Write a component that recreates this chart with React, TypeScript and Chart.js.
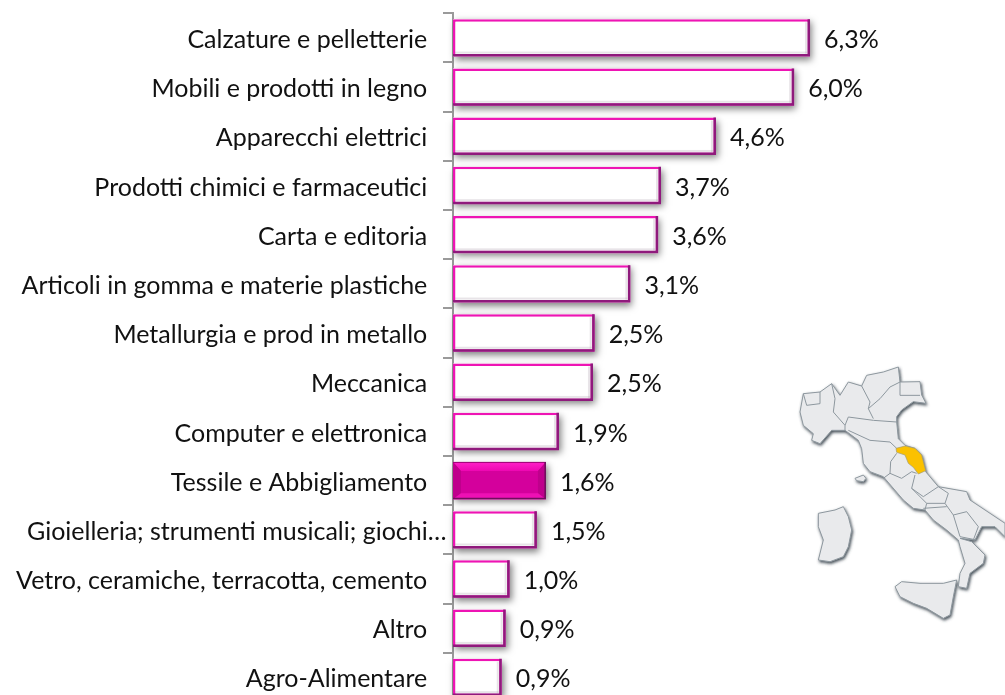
import React, { useEffect, useRef } from "react";
import { Chart, registerables } from "chart.js";

Chart.register(...registerables);

const categories = [
  "Calzature e pelletterie",
  "Mobili e prodotti in legno",
  "Apparecchi elettrici",
  "Prodotti chimici e farmaceutici",
  "Carta e editoria",
  "Articoli in gomma e materie plastiche",
  "Metallurgia e prod in metallo",
  "Meccanica",
  "Computer e elettronica",
  "Tessile e Abbigliamento",
  "Gioielleria; strumenti musicali; giochi…",
  "Vetro, ceramiche, terracotta, cemento",
  "Altro",
  "Agro-Alimentare",
];
const values = [6.3, 6.02, 4.64, 3.67, 3.62, 3.13, 2.5, 2.47, 1.87, 1.64, 1.48, 1.0, 0.93, 0.86];
const valueLabels = ["6,3%", "6,0%", "4,6%", "3,7%", "3,6%", "3,1%", "2,5%", "2,5%", "1,9%", "1,6%", "1,5%", "1,0%", "0,9%", "0,9%"];
const highlighted = "Tessile e Abbigliamento";
const overflowing = "Gioielleria; strumenti musicali; giochi…";

const FONT = "Lato, sans-serif";
const PINK = "#ee14b4";
const PURPLE = "#8f1a7c";

const barDecor = {
  id: "barDecor",
  beforeDatasetsDraw(chart: any) {
    const { ctx } = chart;
    chart.getDatasetMeta(0).data.forEach((b: any) => {
      const top = b.y - b.height / 2;
      ctx.save();
      ctx.shadowColor = "rgba(0,0,0,0.5)";
      ctx.shadowBlur = 7;
      ctx.shadowOffsetX = 2;
      ctx.shadowOffsetY = 3;
      ctx.fillStyle = "#fff";
      ctx.fillRect(b.base, top, b.x - b.base, b.height);
      ctx.restore();
    });
  },
  afterDatasetsDraw(chart: any) {
    const { ctx } = chart;
    chart.getDatasetMeta(0).data.forEach((b: any, i: number) => {
      const top = b.y - b.height / 2;
      const bottom = top + b.height;
      const isHi = categories[i] === highlighted;
      const l = b.base;
      const r = b.x;
      if (isHi) {
        const wx = 8;
        const wt = 9;
        const wb = 6;
        ctx.fillStyle = "#d4009c";
        ctx.fillRect(l, top, r - l, b.height);
        const poly = (pts: number[][], color: any) => {
          ctx.fillStyle = color;
          ctx.beginPath();
          pts.forEach((p, k) => (k ? ctx.lineTo(p[0], p[1]) : ctx.moveTo(p[0], p[1])));
          ctx.closePath();
          ctx.fill();
        };
        const topGrad = ctx.createLinearGradient(0, top, 0, top + wt);
        topGrad.addColorStop(0, "#ff20c8");
        topGrad.addColorStop(1, "#ee06b2");
        poly([[l, top], [r, top], [r - wx, top + wt], [l + wx, top + wt]], topGrad);
        poly([[l, top], [l + wx, top + wt], [l + wx, bottom - wb], [l, bottom]], "#bf008c");
        poly([[r, top], [r - wx, top + wt], [r - wx, bottom - wb], [r, bottom]], "#bf008c");
        poly([[l, bottom], [l + wx, bottom - wb], [r - wx, bottom - wb], [r, bottom]], "#ee10b4");
        ctx.fillStyle = "#a00478";
        ctx.fillRect(l, top, r - l, 1);
      } else {
        ctx.fillStyle = "rgba(150,130,150,0.22)";
        ctx.fillRect(r - 5, top + 3, 2, b.height - 6);
        ctx.fillRect(l + 2, bottom - 5, r - l - 5, 2);
      }
      const edge = isHi ? 1.5 : 2.5;
      ctx.strokeStyle = isHi ? "#6e0f5c" : PURPLE;
      ctx.lineWidth = edge;
      ctx.beginPath();
      ctx.moveTo(r - edge / 2, top);
      ctx.lineTo(r - edge / 2, bottom - edge / 2);
      ctx.lineTo(l, bottom - edge / 2);
      ctx.stroke();
      ctx.fillStyle = "#111";
      ctx.font = `25px ${FONT}`;
      ctx.textAlign = "left";
      ctx.textBaseline = "middle";
      ctx.fillText(valueLabels[i], r + 14, b.y + 2);
    });
  },
};

const outline = "M60,156 L70,101 L120,96 L155,71 L180,106 L205,66 L245,78 L260,46 L310,36 L355,21 L360,66 L420,65 L425,105 L438,130 L400,125 L365,150 L350,170 L350,186 L355,236 L375,256 L405,265 L425,285 L437,335 L475,380 L560,395 L570,420 L675,490 L675,530 L645,500 L605,500 L585,540 L540,535 L575,545 L615,585 L610,610 L570,640 L560,685 L535,680 L540,640 L555,610 L540,560 L535,540 L500,510 L460,480 L435,450 L400,445 L370,420 L310,350 L270,335 L250,310 L245,266 L235,241 L195,211 L155,211 L120,251 L95,241 L100,221 L70,196 Z";
const sicily = "M345,680 L365,665 L420,670 L490,670 L530,660 L520,710 L510,765 L490,775 L440,745 L400,730 L360,710 Z";
const sardinia = "M115,460 L165,450 L190,440 L205,470 L215,510 L205,560 L190,590 L150,605 L115,600 L130,540 L115,500 Z";
const elba = "M225,355 L250,345 L258,355 L250,365 L230,362 Z";
const marche = "M348,265 L375,258 L405,265 L425,285 L437,332 L415,342 L400,322 L385,310 L375,285 L350,277 Z";
const regionLines = [
  "M155,71 L165,116 L160,156 L195,196 L195,211",
  "M70,101 L80,136 L120,131 L120,96",
  "M245,78 L270,126 L265,146 L300,116 L330,81 L360,66",
  "M265,146 L280,176",
  "M360,66 L360,106 L420,106",
  "M205,171 L280,181 L350,186",
  "M205,171 L195,196",
  "M205,211 L270,241 L330,246 L350,265",
  "M350,280 L332,305 L330,340 L365,355 L395,335 L410,340",
  "M310,355 L330,340",
  "M405,345 L395,385 L430,410 L475,380",
  "M395,385 L440,430 L435,450",
  "M475,380 L505,400 L495,430 L440,430",
  "M495,430 L520,465 L560,455",
  "M430,445 L500,440",
  "M520,465 L540,530",
  "M560,455 L595,500 L580,540",
  "M540,530 L590,540",
];

function ItalyMap() {
  return (
    <svg width={225} height={270} viewBox="0 0 675 810" style={{ position: "absolute", left: 780, top: 360 }}>
      <defs>
        <filter id="mapShadow" x="-10%" y="-10%" width="120%" height="120%">
          <feDropShadow dx="3" dy="5" stdDeviation="4" floodColor="#34424b" floodOpacity="0.95" />
        </filter>
        <filter id="soft">
          <feGaussianBlur stdDeviation="1" />
        </filter>
      </defs>
      <g filter="url(#mapShadow)" fill="#e9eaec" stroke="#8d979e" strokeWidth={3} strokeLinejoin="round">
        <path d={outline} />
        <path d={sicily} />
        <path d={sardinia} />
        <path d={elba} />
      </g>
      <g fill="none" stroke="#8d979e" strokeWidth={3} strokeLinejoin="round" filter="url(#soft)">
        {regionLines.map((d) => (
          <path key={d} d={d} />
        ))}
      </g>
      <path d={marche} fill="#fbc100" stroke="#a09a70" strokeWidth={2} strokeLinejoin="round" />
    </svg>
  );
}

export default function App() {
  const ref = useRef<HTMLCanvasElement>(null);
  useEffect(() => {
    document.body.style.margin = "0";
    const chart = new Chart(ref.current!, {
      type: "bar",
      data: {
        labels: categories,
        datasets: [
          {
            data: values,
            backgroundColor: categories.map((c) => (c === highlighted ? "#d40099" : "#ffffff")),
            borderColor: PINK,
            borderWidth: 2.5,
            borderSkipped: false,
            barPercentage: 0.76,
            categoryPercentage: 1,
          },
        ],
      },
      options: {
        indexAxis: "y",
        animation: false,
        responsive: false,
        layout: { padding: { top: 13.3, bottom: 18, left: 0, right: 0 } },
        plugins: { legend: { display: false }, tooltip: { enabled: false } },
        scales: {
          x: { display: false, min: 0, max: 9.74 },
          y: {
            afterFit(scale: any) {
              scale.width = 453;
            },
            border: { display: true, color: "#9a9a9a", width: 2 },
            grid: { offset: true, drawOnChartArea: false, drawTicks: true, tickLength: 10, color: "#9a9a9a", lineWidth: 2 },
            ticks: {
              autoSkip: false,
              padding: -3.5,
              labelOffset: 2,
              color: "#111",
              font: { family: FONT, size: 25 },
              callback(_v: any, i: number) {
                return categories[i] === overflowing ? categories[i] : categories[i] + "   ";
              },
            },
          },
        },
      },
      plugins: [barDecor],
    } as any);
    return () => chart.destroy();
  }, []);
  return (
    <div style={{ position: "fixed", left: 0, top: 0, width: 1005, height: 695, overflow: "hidden", background: "#fff" }}>
      <canvas ref={ref} width={1005} height={720} style={{ display: "block" }} />
      <ItalyMap />
    </div>
  );
}
